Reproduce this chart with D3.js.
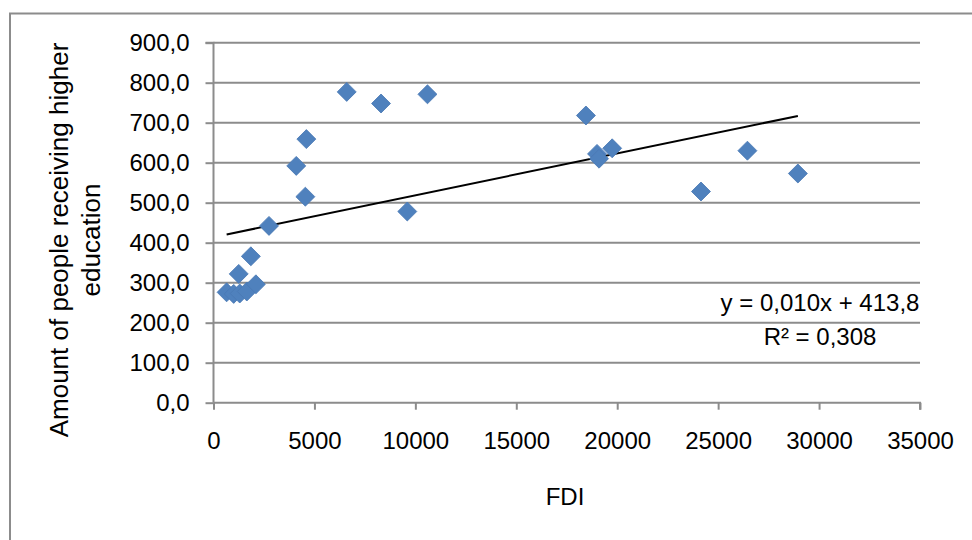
<!DOCTYPE html>
<html>
<head>
<meta charset="utf-8">
<script src="https://cdn.jsdelivr.net/npm/d3@7"></script>
<style>
  body { margin: 0; background: #fff; }
  text { font-family: "Liberation Sans", Arial, sans-serif; fill: #000; }
</style>
</head>
<body>
<div id="chart"></div>
<script>
// FDI vs amount of people receiving higher education
const fdi = [650, 1000, 1300, 1650, 2100, 1250, 1850, 2750, 4100, 4550, 4600,
  6600, 8300, 9600, 10600, 18450, 19000, 19100, 19750, 24150, 26450, 28950];
const students = [276, 272, 273, 278, 296, 322, 366, 442, 592, 515, 659,
  777, 748, 478, 771, 718, 622, 610, 636, 528, 630, 573];
const xTicks = [0, 5000, 10000, 15000, 20000, 25000, 30000, 35000];
const yTicks = [0, 100, 200, 300, 400, 500, 600, 700, 800, 900];
const trendSlope = 0.01047, trendIntercept = 413.8;

const width = 972, height = 540;
const fmt = v => d3.format(".1f")(v).replace(".", ",");

const svg = d3.select("#chart")
  .append("svg")
  .attr("width", width)
  .attr("height", height);

// outer chart frame (only top & left visible)
svg.append("path")
  .attr("d", "M10,560 V13.5 H980")
  .attr("fill", "none")
  .attr("stroke", "#8c8c8c")
  .attr("stroke-width", 2);

const x = d3.scaleLinear().domain([0, 35000]).range([213.5, 920]);
const y = d3.scaleLinear().domain([0, 900]).range([402.7, 42.7]);

// gridlines
svg.append("g")
  .selectAll("line")
  .data(yTicks.filter(d => d > 0))
  .enter()
  .append("line")
  .attr("x1", x(0)).attr("x2", x(35000))
  .attr("y1", d => y(d)).attr("y2", d => y(d))
  .attr("stroke", "#8c8c8c")
  .attr("stroke-width", 2);

const yAxis = svg.append("g")
  .attr("transform", `translate(${x(0)},0)`)
  .call(d3.axisLeft(y).tickValues(yTicks).tickFormat(fmt).tickSize(8).tickPadding(16));

const xAxis = svg.append("g")
  .attr("transform", `translate(0,${y(0)})`)
  .call(d3.axisBottom(x).tickValues(xTicks).tickFormat(d3.format("d")).tickSize(7).tickPadding(22));

[yAxis, xAxis].forEach(a => {
  a.selectAll("path, line").attr("stroke", "#8c8c8c").attr("stroke-width", 2);
  a.selectAll("text").style("font-size", "24px").attr("fill", "#000");
});
xAxis.select(".domain").attr("d", `M${x(0)},0H${x(35000)}V7`);
yAxis.select(".domain").attr("d", `M-8,${y(900)}H0V${y(0)}`);

// trend line across data range
const xMin = d3.min(fdi), xMax = d3.max(fdi);
svg.append("line")
  .attr("x1", x(xMin)).attr("y1", y(trendSlope * xMin + trendIntercept))
  .attr("x2", x(xMax)).attr("y2", y(trendSlope * xMax + trendIntercept))
  .attr("stroke", "#000")
  .attr("stroke-width", 2);

// diamond markers
const diamond = d3.symbol().type(d3.symbolSquare).size(180);
svg.append("g")
  .selectAll("path")
  .data(fdi.map((v, i) => ({ x: v, y: students[i] })))
  .enter()
  .append("path")
  .attr("d", diamond)
  .attr("transform", d => `translate(${x(d.x)},${y(d.y)}) rotate(45)`)
  .attr("fill", "#4f81bd")
  .attr("stroke", "#4a7ab5")
  .attr("stroke-width", 0.8);

// equation
svg.append("text")
  .attr("x", 820).attr("y", 311)
  .attr("text-anchor", "middle")
  .style("font-size", "24px")
  .text("y = 0,010x + 413,8");
svg.append("text")
  .attr("x", 820).attr("y", 345)
  .attr("text-anchor", "middle")
  .style("font-size", "24px")
  .text("R² = 0,308");

// axis titles
const yTitle = svg.append("text")
  .attr("transform", "translate(68,240) rotate(-90)")
  .attr("text-anchor", "middle")
  .style("font-size", "26px");
yTitle.append("tspan").attr("x", 0).attr("y", 0).text("Amount of people receiving higher");
yTitle.append("tspan").attr("x", 0).attr("y", 32).text("education");

svg.append("text")
  .attr("x", 565).attr("y", 505)
  .attr("text-anchor", "middle")
  .style("font-size", "24px")
  .text("FDI");
</script>
</body>
</html>
